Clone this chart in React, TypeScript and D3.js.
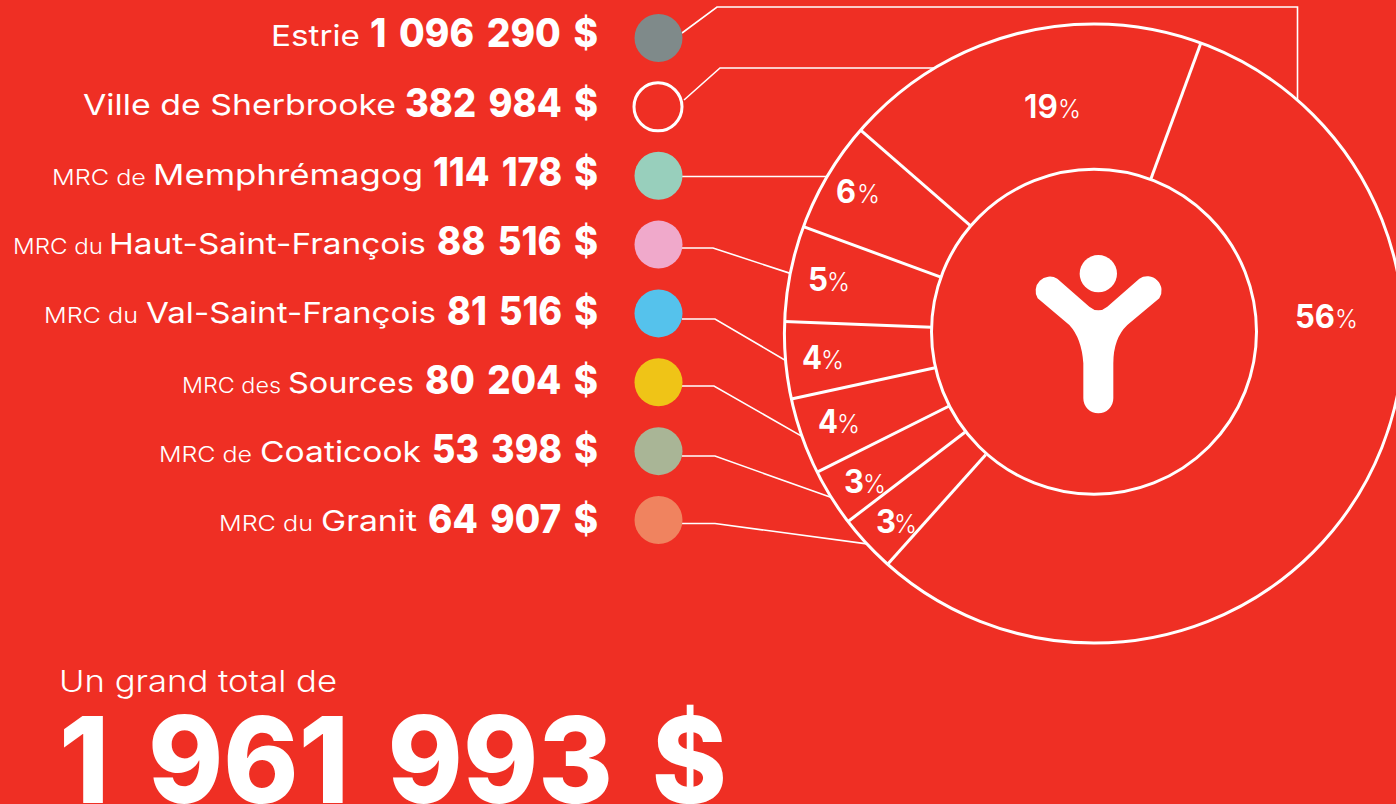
import React, { useEffect } from "react";
import * as d3 from "d3";

// ---- data (as printed in the reference) ----
const regions = ["Estrie", "Ville de Sherbrooke", "Memphrémagog", "Haut-Saint-François", "Val-Saint-François", "Sources", "Coaticook", "Granit"];
const prefixes = ["", "", "MRC de", "MRC du", "MRC du", "MRC des", "MRC de", "MRC du"];
const amountLabels = ["1 096 290 $", "382 984 $", "114 178 $", "88 516 $", "81 516 $", "80 204 $", "53 398 $", "64 907 $"];
const percents = [56, 19, 6, 5, 4, 4, 3, 3];
// slice sizes as measured on the ring (close to the printed percents)
const sliceShares = [56, 19.2, 5.8, 5, 4, 4, 3, 3];
const swatches = ["#7F8A8A", "none", "#98CFBC", "#F0A9CB", "#55C2EC", "#EFC417", "#A9B596", "#F0835F"];
const pieOrder = ["Estrie", "Granit", "Coaticook", "Sources", "Val-Saint-François", "Haut-Saint-François", "Memphrémagog", "Ville de Sherbrooke"];
const totalCaption = "Un grand total de";
const totalLabel = "1 961 993 $";

// ---- layout ----
const W = 1396, H = 804;
const BG = "#EF2F24";
const SANS = "Inter, 'Open Sans', sans-serif";
const CX = 1094, CY = 333.5, R_OUT = 309.6, R_IN = 162.5, INNER_CY = 331.8;
const START = (20.2 * Math.PI) / 180;
// text extents per row: [prefix x0,x1], [name x0,x1], [amount x0,x1]
const prefixExt: ([number, number] | null)[] = [null, null, [52, 146], [13, 103], [44, 138], [182, 281], [159, 252], [219, 313]];
const nameExt: [number, number][] = [[271, 360], [83, 396], [153, 423], [109, 426], [146, 436], [288, 414], [260, 421], [321, 417]];
const amountExt: [number, number][] = [[370, 598], [405, 598], [433, 598], [437, 598], [447, 598], [425, 598], [432, 598], [428, 598]];
const baselines = [47, 116.5, 186, 255, 324.5, 394, 463, 532.5];
const pctPos: [number, number, number][] = [[1295, 1358, 328], [1024, 1081, 118], [836, 880, 203], [808, 850, 291], [802, 844, 369], [818, 860, 433], [844, 886, 493], [876, 917, 533]];
// leader: start point + elbow; the last point sits on the ring
const leaderStart: [number, number][] = [[682, 33], [684, 100], [682, 176.5], [682, 248], [682, 319], [682, 386], [682, 456], [682, 523.5]];
const leaderElbow: [number, number][][] = [[[717, 7], [1297.5, 7]], [[720, 68]], [], [[713, 248]], [[715, 319]], [[714, 386]], [[715, 456]], [[715, 523.5]]];
const leaderAngle: (number | null)[] = [41, 329, null, null, null, null, null, null];

export default function App() {
  useEffect(() => {
    document.body.style.margin = "0";
    document.body.style.overflow = "hidden";
  }, []);

  const dotY = d3.scalePoint<string>().domain(regions).range([38, 520]);
  const byName = new Map(regions.map((r, i) => [r, sliceShares[i]]));
  const pie = d3.pie<string>().sort(null).value((n) => byName.get(n) as number).startAngle(START).endAngle(START + 2 * Math.PI);
  const arcs = pie(pieOrder);
  const arcOf = new Map(arcs.map((a) => [a.data, a]));
  const line = d3.line();

  return (
    <svg width={W} height={H} viewBox={`0 0 ${W} ${H}`} style={{ position: "fixed", left: 0, top: 0, background: BG, fontFamily: SANS }}>
      <rect width={W} height={H} fill={BG} />
      {/* leaders */}
      {regions.map((r, i) => {
        const a = arcOf.get(r)!;
        const ang = leaderAngle[i] !== null ? ((leaderAngle[i] as number) * Math.PI) / 180 : (a.startAngle + a.endAngle) / 2;
        const end = d3.pointRadial(ang, R_OUT);
        const pts: [number, number][] = [leaderStart[i], ...leaderElbow[i], [CX + end[0], CY + end[1]]];
        if (leaderElbow[i].length === 0) pts[1] = [CX + end[0], leaderStart[i][1]];
        if (i === 0) pts[pts.length - 1] = [1297.5, CY + end[1]];
        if (i === 1) pts[pts.length - 1] = [CX + end[0], 68];
        return <path key={r} d={line(pts) as string} fill="none" stroke="#fff" strokeWidth={1.6} />;
      })}
      {/* donut: outer ring, spokes at the pie's slice boundaries, inner disc */}
      <circle cx={CX} cy={CY} r={R_OUT} fill={BG} stroke="#fff" strokeWidth={3} />
      {arcs.map((a) => {
        const p0 = d3.pointRadial(a.startAngle, R_OUT);
        const p1 = d3.pointRadial(a.startAngle, R_IN);
        return <line key={a.data} x1={CX + p0[0]} y1={CY + p0[1]} x2={CX + p1[0]} y2={CY + p1[1]} stroke="#fff" strokeWidth={3} />;
      })}
      <circle cx={CX} cy={INNER_CY} r={R_IN} fill={BG} stroke="#fff" strokeWidth={3} />
      {/* logo */}
      <g transform="translate(1000,230) scale(0.3333)" fill="#fff">
        <circle cx={295} cy={131} r={56} />
        <path d="M113 205 A43 43 0 0 1 172 146 L268 230 Q295 252 322 230 L418 146 A43 43 0 0 1 478 205 L382 285 Q340 325 340 400 L340 505 A45 45 0 0 1 250 505 L250 400 Q245 325 208 285 Z" />
      </g>
      {/* percent labels */}
      {regions.map((n, i) => {
        const [x0, x1, y] = pctPos[i];
        const pct = percents[i];
        const pctW = 23;
        const numW = pct >= 10 ? x1 - x0 - pctW : 20;
        return (
          <g key={n} fill="#fff">
            <text x={x0} y={y} fontSize={32} fontWeight={pct === 19 ? 600 : 700} textLength={numW} lengthAdjust="spacingAndGlyphs">{pct}</text>
            <text x={x1 - pctW} y={y} fontSize={26} fontWeight={300} textLength={pctW} lengthAdjust="spacingAndGlyphs">%</text>
          </g>
        );
      })}
      {/* legend */}
      {regions.map((r, i) => {
        const cy = dotY(r) as number;
        const none = swatches[i] === "none";
        const pe = prefixExt[i];
        return (
          <g key={r} fill="#fff">
            <circle cx={none ? 658 : 658.5} cy={cy} r={24} fill={none ? BG : swatches[i]} stroke={none ? "#fff" : "none"} strokeWidth={none ? 3 : 0} />
            {pe && (
              <text x={pe[0]} y={baselines[i] - 1.5} fontSize={22} fontWeight={300} textLength={pe[1] - pe[0]} lengthAdjust="spacingAndGlyphs">{prefixes[i]}</text>
            )}
            <text x={nameExt[i][0]} y={baselines[i] - 1.5} fontSize={29} fontWeight={400} textLength={nameExt[i][1] - nameExt[i][0]} lengthAdjust="spacingAndGlyphs">{r}</text>
            <text x={amountExt[i][0]} y={baselines[i]} fontSize={40} fontWeight={800} wordSpacing="0.12em" textLength={amountExt[i][1] - amountExt[i][0]} lengthAdjust="spacingAndGlyphs">{amountLabels[i]}</text>
          </g>
        );
      })}
      {/* total */}
      <text x={59} y={692} fill="#fff" fontSize={30} fontWeight={300} textLength={278} lengthAdjust="spacingAndGlyphs">{totalCaption}</text>
      <text x={59} y={803} fill="#fff" fontSize={120} fontWeight={800} wordSpacing="0.12em" textLength={668} lengthAdjust="spacingAndGlyphs">{totalLabel}</text>
    </svg>
  );
}
